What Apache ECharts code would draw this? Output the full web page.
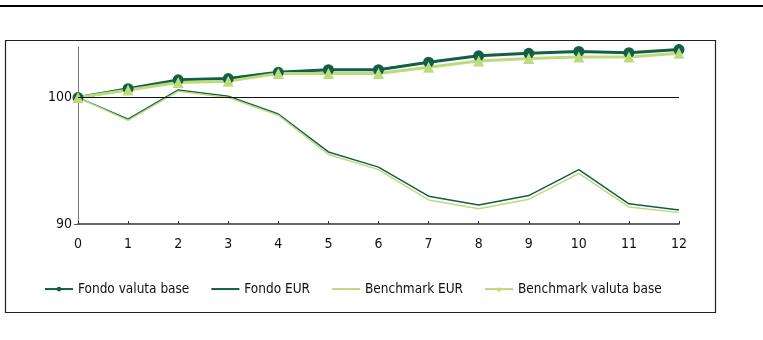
<!DOCTYPE html>
<html style="height: 100%">
<head>
    <script src="https://cdn.jsdelivr.net/npm/echarts@6/dist/echarts.min.js"></script>
</head>
<body style="height: 100%; margin: 0; background: #fff">
    <div id="main" style="width: 763px; height: 340px"></div>
    <script type="text/javascript">
    var chartDom = document.getElementById('main');
    var myChart = echarts.init(chartDom);

    var categories = ['0','1','2','3','4','5','6','7','8','9','10','11','12'];
    var fondoBase = [100, 100.7, 101.4, 101.5, 102.0, 102.2, 102.2, 102.8, 103.3, 103.5, 103.65, 103.55, 103.8];
    var fondoEur = [100, 98.3, 100.6, 100.1, 98.7, 95.7, 94.5, 92.2, 91.5, 92.25, 94.3, 91.6, 91.1];
    var benchEur = [100, 98.2, 100.5, 100.0, 98.6, 95.5, 94.3, 91.9, 91.2, 91.95, 94.0, 91.35, 90.9];
    var benchBase = [100, 100.6, 101.2, 101.3, 101.9, 101.9, 101.9, 102.4, 102.9, 103.1, 103.2, 103.2, 103.5];

    var dark = '#135f45';
    var light = '#bcdc7c';
    var font = 'DejaVu Sans Condensed, sans-serif';

    var option = {
        backgroundColor: '#fff',
        animation: false,
        textStyle: { fontFamily: font },
        graphic: [
            { type: 'rect', shape: { x: 0, y: 5, width: 763, height: 2 }, style: { fill: '#000' } },
            { type: 'rect', shape: { x: 5.5, y: 40.5, width: 710, height: 272 },
              style: { fill: 'none', stroke: '#222', lineWidth: 1.2 } }
        ],
        legend: {
            top: 272,
            left: 39,
            itemGap: 21,
            itemWidth: 28,
            itemHeight: 6,
            textStyle: { fontFamily: font, fontSize: 13.5, color: '#111' },
            data: [
                { name: 'Fondo valuta base' },
                { name: 'Fondo EUR', itemStyle: { opacity: 0 } },
                { name: 'Benchmark EUR', itemStyle: { opacity: 0 } },
                { name: 'Benchmark valuta base' }
            ]
        },
        grid: { left: 78, right: 84, top: 47, bottom: 116 },
        xAxis: {
            type: 'category',
            boundaryGap: false,
            data: categories,
            axisLine: { lineStyle: { color: '#333', width: 1.5 } },
            axisTick: { inside: true, length: 3, lineStyle: { color: '#333' } },
            axisLabel: { color: '#111', fontSize: 14, fontFamily: font, margin: 8 }
        },
        yAxis: {
            type: 'value',
            min: 90,
            max: 104,
            interval: 10,
            splitLine: { show: false },
            axisLine: { show: true, lineStyle: { color: '#777' } },
            axisTick: { show: true, length: 4, lineStyle: { color: '#555' } },
            axisLabel: { color: '#111', fontSize: 14, fontFamily: font, showMaxLabel: false, margin: 6 }
        },
        series: [
            {
                name: 'Fondo valuta base',
                type: 'line',
                data: fondoBase,
                symbol: 'circle',
                symbolSize: 11,
                lineStyle: { color: dark, width: 3 },
                itemStyle: { color: dark },
                markLine: {
                    silent: true,
                    symbol: 'none',
                    label: { show: false },
                    lineStyle: { color: '#111', width: 1.2, type: 'solid' },
                    data: [{ yAxis: 100 }]
                }
            },
            {
                name: 'Fondo EUR',
                type: 'line',
                data: fondoEur,
                symbol: 'none',
                lineStyle: { color: dark, width: 1.5 },
                itemStyle: { color: dark }
            },
            {
                name: 'Benchmark EUR',
                type: 'line',
                data: benchEur,
                symbol: 'none',
                lineStyle: { color: light, width: 1.5 },
                itemStyle: { color: light }
            },
            {
                name: 'Benchmark valuta base',
                type: 'line',
                data: benchBase,
                symbol: 'triangle',
                symbolSize: 11,
                lineStyle: { color: light, width: 3 },
                itemStyle: { color: light }
            }
        ]
    };

    myChart.setOption(option);
    </script>
</body>
</html>
